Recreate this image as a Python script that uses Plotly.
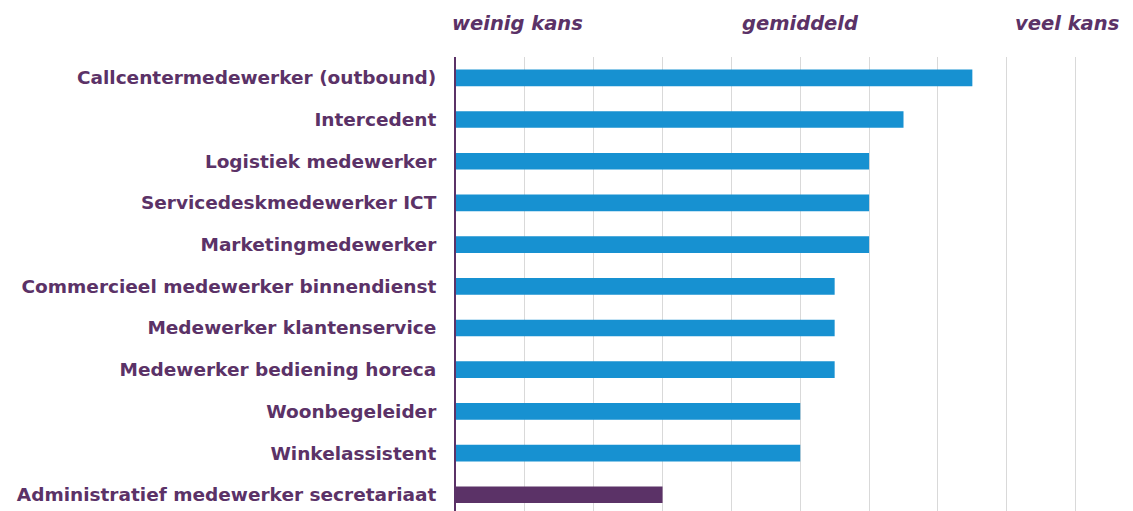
import plotly.graph_objects as go

categories = [
    "Callcentermedewerker (outbound)",
    "Intercedent",
    "Logistiek medewerker",
    "Servicedeskmedewerker ICT",
    "Marketingmedewerker",
    "Commercieel medewerker binnendienst",
    "Medewerker klantenservice",
    "Medewerker bediening horeca",
    "Woonbegeleider",
    "Winkelassistent",
    "Administratief medewerker secretariaat",
]
values = [7.5, 6.5, 6, 6, 6, 5.5, 5.5, 5.5, 5, 5, 3]
highlight = "Administratief medewerker secretariaat"

scale_labels = ["weinig kans", "gemiddeld", "veel kans"]
scale_positions = [0.9, 5.0, 8.88]

BLUE = "#1791d1"
PURPLE = "#5b3267"

colors = [PURPLE if c == highlight else BLUE for c in categories]

fig = go.Figure(
    go.Bar(
        x=values,
        y=categories,
        orientation="h",
        marker=dict(color=colors, line=dict(width=0)),
        width=0.4,
        hoverinfo="x+y",
    )
)

annotations = []
for txt, pos in zip(scale_labels, scale_positions):
    annotations.append(
        dict(
            text=txt,
            x=pos,
            xref="x",
            y=1.073,
            yref="paper",
            xanchor="center",
            yanchor="middle",
            showarrow=False,
            font=dict(family="DejaVu Sans", size=19.5, color=PURPLE, style="italic", weight="bold"),
        )
    )

fig.update_layout(
    width=1133,
    height=511,
    margin=dict(l=456, r=56, t=57, b=0),
    paper_bgcolor="white",
    plot_bgcolor="white",
    showlegend=False,
    bargap=0.6,
    annotations=annotations,
    xaxis=dict(
        range=[0, 9.02],
        dtick=1,
        showgrid=True,
        gridcolor="#d9d9d9",
        gridwidth=1,
        showticklabels=False,
        zeroline=False,
        showline=False,
        ticks="",
    ),
    yaxis=dict(
        type="category",
        categoryorder="array",
        categoryarray=categories,
        range=[10.39, -0.5],
        showline=True,
        linecolor=PURPLE,
        linewidth=2,
        showgrid=False,
        zeroline=False,
        ticks="",
        ticklabelstandoff=14,
        tickfont=dict(family="DejaVu Sans", size=18.5, color=PURPLE, weight="bold"),
    ),
)

fig.write_html("out.html")
